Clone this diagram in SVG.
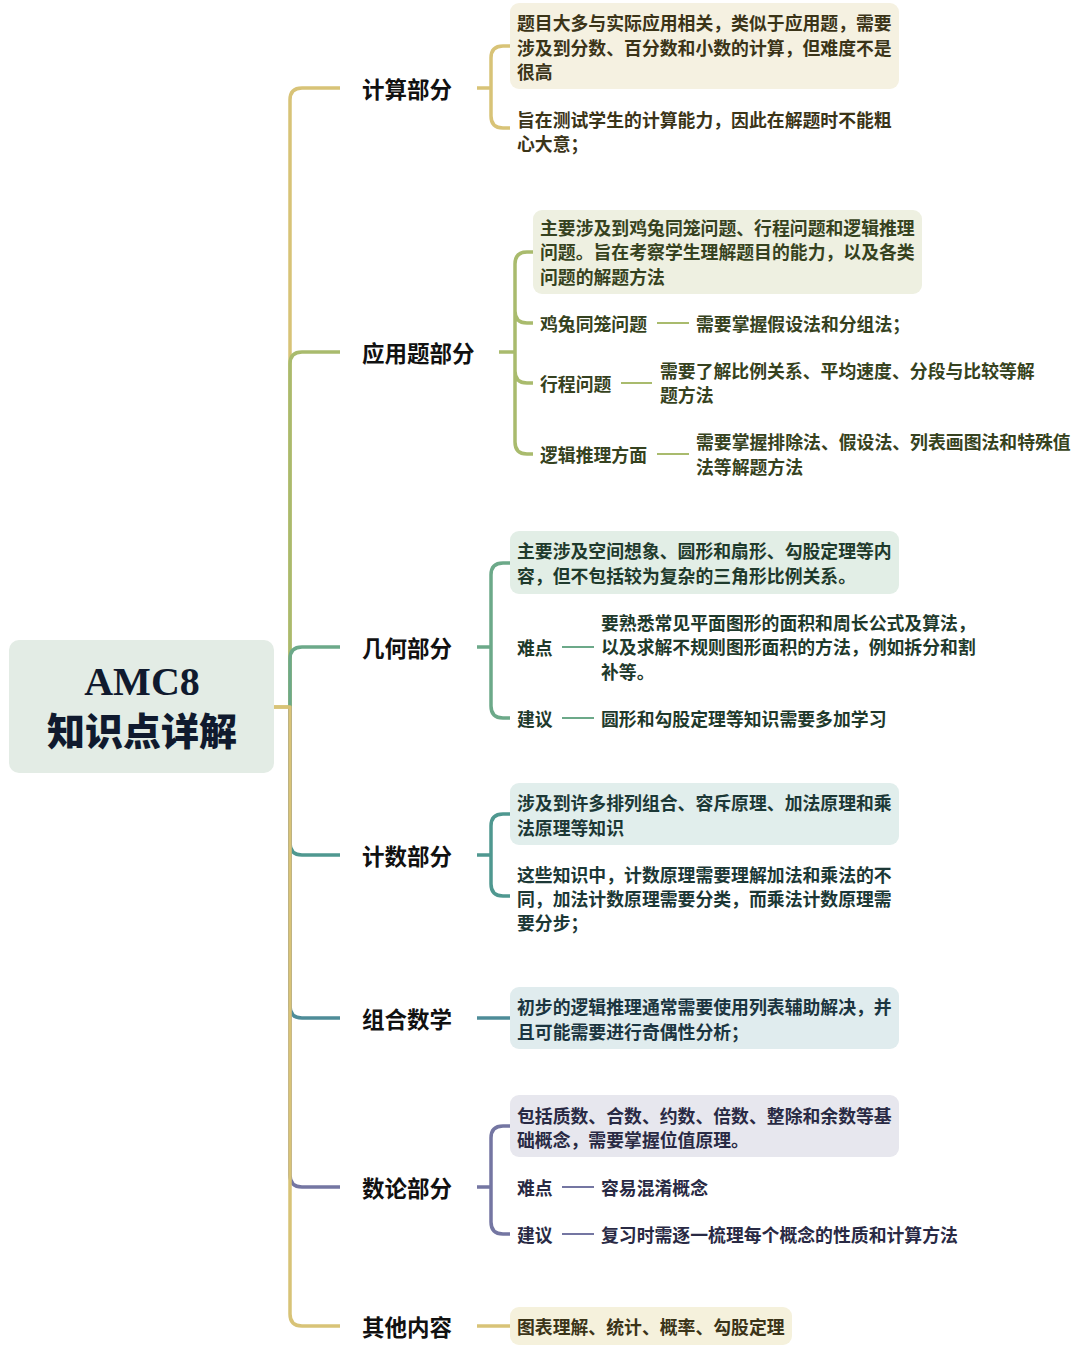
<svg xmlns="http://www.w3.org/2000/svg" width="1080" height="1357" viewBox="0 0 1080 1357">
<style>
.t{font-family:"Noto Sans CJK SC","Noto Sans",sans-serif;font-weight:700;font-size:17.85px;dominant-baseline:central}
.m{font-family:"Noto Sans CJK SC","Noto Sans",sans-serif;font-weight:700;font-size:22.5px;fill:#111;dominant-baseline:central}
.ln{fill:none;stroke-width:3.5;stroke-linecap:butt;stroke-linejoin:round}
.sl{fill:none;stroke-width:2}
.c1{stroke:#d8c377}.c2{stroke:#a9bb6d}.c3{stroke:#6ca989}.c4{stroke:#4f9890}.c5{stroke:#4e8c98}.c6{stroke:#7476a2}
.f1{fill:#3b3418}.f2{fill:#364220}.f3{fill:#1f3a2c}.f4{fill:#1c3836}.f5{fill:#1b3540}.f6{fill:#292a44}
</style>
<rect width="1080" height="1357" fill="#ffffff"/>
<g id="connectors">
<path class="ln c1" d="M274 707H290V100Q290 88 302 88H340"/>
<path class="ln c2" d="M290 707V364Q290 352 302 352H340"/>
<path class="ln c3" d="M290 707V659Q290 647 302 647H340"/>
<path class="ln c4" d="M290 707V843Q290 855 302 855H340"/>
<path class="ln c5" d="M290 707V1006Q290 1018 302 1018H340"/>
<path class="ln c6" d="M290 707V1175Q290 1187 302 1187H340"/>
<path class="ln c1" d="M274 707H290V1314Q290 1326 302 1326H340"/>
<path class="ln c1" d="M477 88H491M510 46H503Q491 46 491 58V116Q491 128 503 128H510"/>
<path class="ln c2" d="M499 352H515M533 252H527Q515 252 515 264V442Q515 454 527 454H533M515 311Q515 323 527 323H533M515 371Q515 383 527 383H533"/>
<path class="sl c2" d="M657 323H689M621 383H652M657 454H689"/>
<path class="ln c3" d="M477 647H491M510 563H503Q491 563 491 575V706Q491 718 503 718H510"/>
<path class="sl c3" d="M562 647H594M562 718H594"/>
<path class="ln c4" d="M477 855H491M510 814H503Q491 814 491 826V884Q491 896 503 896H510"/>
<path class="ln c5" d="M477 1018H510"/>
<path class="ln c6" d="M477 1187H491M510 1126H503Q491 1126 491 1138V1222Q491 1234 503 1234H510"/>
<path class="sl c6" d="M562 1187H594M562 1234H594"/>
<path class="ln c1" d="M477 1326H510"/>
</g>
<g id="root">
<rect x="9" y="640" width="265" height="133" rx="10" fill="#e3ece5"/>
<text x="142" y="695" text-anchor="middle" font-family="Liberation Serif,serif" font-weight="700" font-size="40" fill="#101a2e">AMC8</text>
<text x="142" y="745" text-anchor="middle" font-family="Noto Sans CJK SC,sans-serif" font-weight="900" font-size="38" fill="#101a2e">知识点详解</text>
</g>
<g id="b1">
<text class="m" x="362" y="88">计算部分</text>
<rect x="510" y="3" width="389" height="86" rx="9" fill="#f5f1e1"/>
<text class="t f1" x="517" y="22">题目大多与实际应用相关，类似于应用题，需要</text>
<text class="t f1" x="517" y="47">涉及到分数、百分数和小数的计算，但难度不是</text>
<text class="t f1" x="517" y="71">很高</text>
<text class="t f1" x="517" y="119">旨在测试学生的计算能力，因此在解题时不能粗</text>
<text class="t f1" x="517" y="143">心大意；</text>
</g>
<g id="b2">
<text class="m" x="362" y="352">应用题部分</text>
<rect x="533" y="210" width="389" height="84" rx="9" fill="#eef0e1"/>
<text class="t f2" x="540" y="227">主要涉及到鸡兔同笼问题、行程问题和逻辑推理</text>
<text class="t f2" x="540" y="251">问题。旨在考察学生理解题目的能力，以及各类</text>
<text class="t f2" x="540" y="276">问题的解题方法</text>
<text class="t f2" x="540" y="323">鸡兔同笼问题</text>
<text class="t f2" x="696" y="323">需要掌握假设法和分组法；</text>
<text class="t f2" x="540" y="383">行程问题</text>
<text class="t f2" x="660" y="370">需要了解比例关系、平均速度、分段与比较等解</text>
<text class="t f2" x="660" y="394">题方法</text>
<text class="t f2" x="540" y="454">逻辑推理方面</text>
<text class="t f2" x="696" y="441">需要掌握排除法、假设法、列表画图法和特殊值</text>
<text class="t f2" x="696" y="466">法等解题方法</text>
</g>
<g id="b3">
<text class="m" x="362" y="647">几何部分</text>
<rect x="510" y="531" width="389" height="63" rx="9" fill="#e2eee6"/>
<text class="t f3" x="517" y="550">主要涉及空间想象、圆形和扇形、勾股定理等内</text>
<text class="t f3" x="517" y="575">容，但不包括较为复杂的三角形比例关系。</text>
<text class="t f3" x="517" y="647">难点</text>
<text class="t f3" x="601" y="622">要熟悉常见平面图形的面积和周长公式及算法，</text>
<text class="t f3" x="601" y="646">以及求解不规则图形面积的方法，例如拆分和割</text>
<text class="t f3" x="601" y="671">补等。</text>
<text class="t f3" x="517" y="718">建议</text>
<text class="t f3" x="601" y="718">圆形和勾股定理等知识需要多加学习</text>
</g>
<g id="b4">
<text class="m" x="362" y="855">计数部分</text>
<rect x="510" y="783" width="389" height="62" rx="9" fill="#e1eeec"/>
<text class="t f4" x="517" y="802">涉及到许多排列组合、容斥原理、加法原理和乘</text>
<text class="t f4" x="517" y="827">法原理等知识</text>
<text class="t f4" x="517" y="874">这些知识中，计数原理需要理解加法和乘法的不</text>
<text class="t f4" x="517" y="898">同，加法计数原理需要分类，而乘法计数原理需</text>
<text class="t f4" x="517" y="922">要分步；</text>
</g>
<g id="b5">
<text class="m" x="362" y="1018">组合数学</text>
<rect x="510" y="987" width="389" height="62" rx="9" fill="#e0ecee"/>
<text class="t f5" x="517" y="1006">初步的逻辑推理通常需要使用列表辅助解决，并</text>
<text class="t f5" x="517" y="1031">且可能需要进行奇偶性分析；</text>
</g>
<g id="b6">
<text class="m" x="362" y="1187">数论部分</text>
<rect x="510" y="1095" width="389" height="62" rx="9" fill="#e7e7ee"/>
<text class="t f6" x="517" y="1115">包括质数、合数、约数、倍数、整除和余数等基</text>
<text class="t f6" x="517" y="1139">础概念，需要掌握位值原理。</text>
<text class="t f6" x="517" y="1187">难点</text>
<text class="t f6" x="601" y="1187">容易混淆概念</text>
<text class="t f6" x="517" y="1234">建议</text>
<text class="t f6" x="601" y="1234">复习时需逐一梳理每个概念的性质和计算方法</text>
</g>
<g id="b7">
<text class="m" x="362" y="1326">其他内容</text>
<rect x="510" y="1307" width="282" height="38" rx="9" fill="#f5f1dc"/>
<text class="t f1" x="517" y="1326">图表理解、统计、概率、勾股定理</text>
</g>
</svg>
